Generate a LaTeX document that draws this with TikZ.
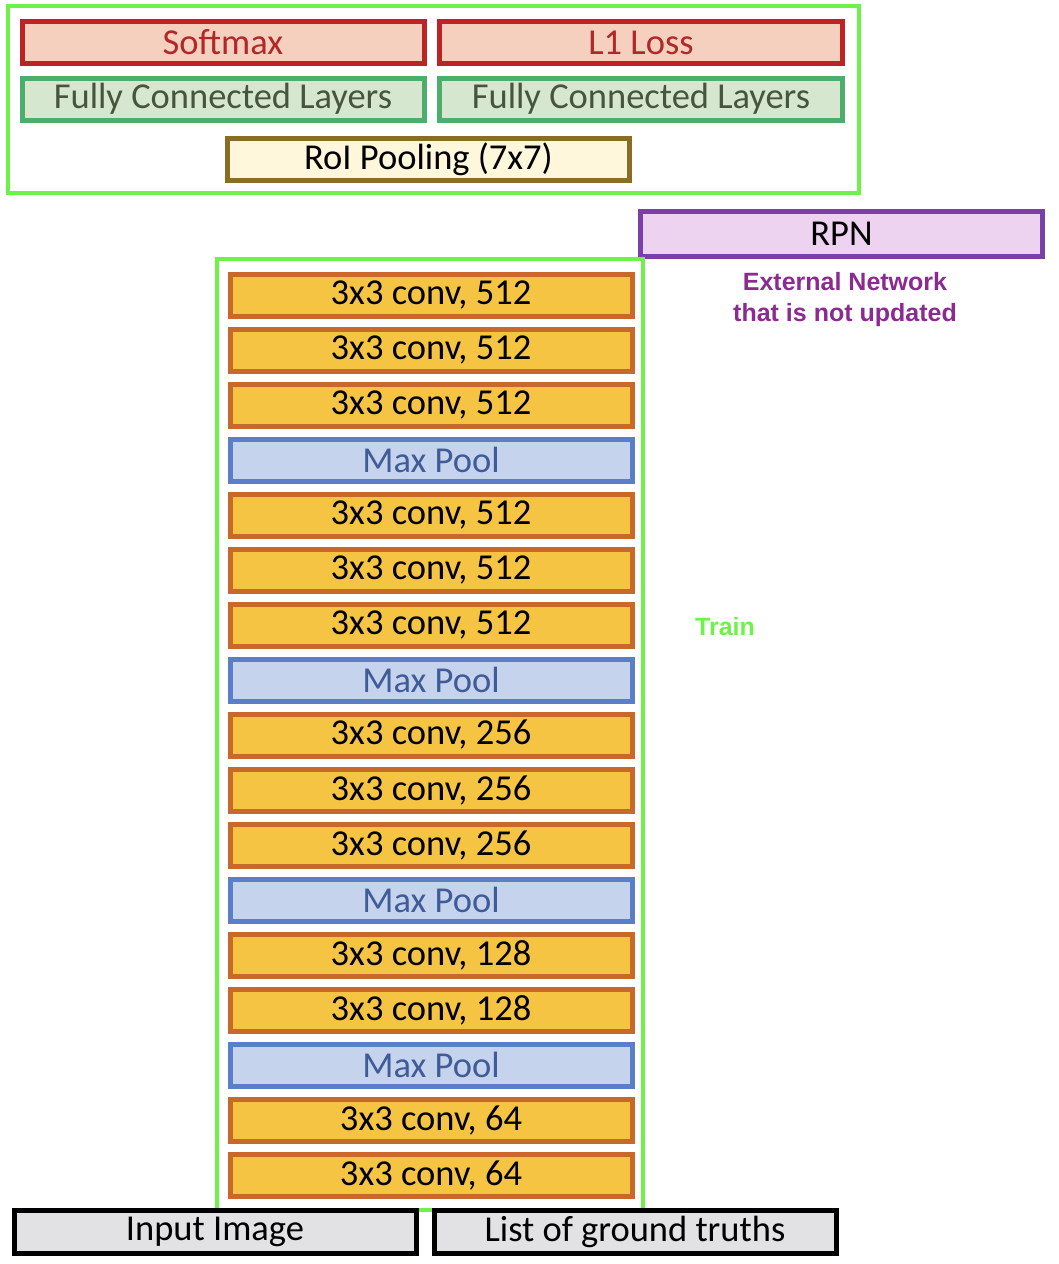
\documentclass[tikz,border=0pt]{standalone}
\usepackage{fontspec}
\setmainfont{Carlito}
\newfontfamily\notefont{Liberation Sans}

\definecolor{convline}{HTML}{C8692A}
\definecolor{convfill}{HTML}{F5C443}
\definecolor{poolline}{HTML}{5A7FC8}
\definecolor{poolfill}{HTML}{C6D3EC}
\definecolor{pooltext}{HTML}{3F5C99}
\definecolor{lossline}{HTML}{BE2323}
\definecolor{lossfill}{HTML}{F5D0BF}
\definecolor{losstext}{HTML}{B02828}
\definecolor{fcline}{HTML}{4DAE6C}
\definecolor{fcfill}{HTML}{D6E7D0}
\definecolor{fctext}{HTML}{46563C}
\definecolor{roiline}{HTML}{8A6D25}
\definecolor{roifill}{HTML}{FFF7DC}
\definecolor{rpnline}{HTML}{7A40A8}
\definecolor{rpnfill}{HTML}{EDD3F0}
\definecolor{rpntext}{HTML}{8B2A90}
\definecolor{inputfill}{HTML}{E2E2E4}
\definecolor{trainline}{HTML}{6EF24A}

\tikzset{
  layer/.style={rectangle,draw,line width=5pt,inner sep=0pt,
    minimum width=402pt,minimum height=42pt,
    font=\fontsize{36.5}{40}\selectfont},
  conv/.style={layer,draw=convline,fill=convfill},
  pool/.style={layer,draw=poolline,fill=poolfill,text=pooltext},
  loss/.style={layer,draw=lossline,fill=lossfill,text=losstext},
  fc/.style={layer,draw=fcline,fill=fcfill,text=fctext},
  roi/.style={layer,draw=roiline,fill=roifill},
  rpn/.style={layer,draw=rpnline,fill=rpnfill,minimum height=45pt},
  inputbox/.style={layer,draw=black,fill=inputfill,minimum height=43pt},
  frame/.style={draw=trainline,line width=4.5pt},
  note/.style={font=\notefont\bfseries\fontsize{25}{31}\selectfont,align=center}
}

\begin{document}
\begin{tikzpicture}[x=1pt,y=-1pt]
    \useasboundingbox (0,0) rectangle (1058,1264);

    % Head of the detector
    \draw[frame] (8,6) rectangle (859,193);
    \node[loss] (softmax) at (223,42.5) {Softmax};
    \node[loss,minimum width=403pt] (lone) at (641,42.5) {L1 Loss};
    \node[fc] (fcleft) at (223,99) {Fully Connected Layers};
    \node[fc,minimum width=403pt] (fcright) at (641,99) {Fully Connected Layers};
    \node[roi] (roi) at (428.5,159.5) {RoI Pooling (7x7)};

    % Region proposals
    \node[rpn] (rpn) at (841.5,234) {RPN};
    \node[note,text=rpntext] (external) at (845,300) {External Network\\that is not updated};

    % Backbone
    \draw[frame] (217,259) rectangle (643,1210);
    \node[note,text=trainline] (train) at (725,627) {Train};
    \foreach \sty/\lab [count=\i from 0] in {
        conv/{3x3 conv, 512}, conv/{3x3 conv, 512}, conv/{3x3 conv, 512}, pool/{Max Pool},
        conv/{3x3 conv, 512}, conv/{3x3 conv, 512}, conv/{3x3 conv, 512}, pool/{Max Pool},
        conv/{3x3 conv, 256}, conv/{3x3 conv, 256}, conv/{3x3 conv, 256}, pool/{Max Pool},
        conv/{3x3 conv, 128}, conv/{3x3 conv, 128}, pool/{Max Pool},
        conv/{3x3 conv, 64}, conv/{3x3 conv, 64}}
        \node[\sty] (layer\i) at (431,295+55*\i) {\lab};

    % Inputs
    \node[inputbox] (image) at (215,1232) {Input Image};
    \node[inputbox] (truths) at (635,1232) {List of ground truths};
\end{tikzpicture}
\end{document}
